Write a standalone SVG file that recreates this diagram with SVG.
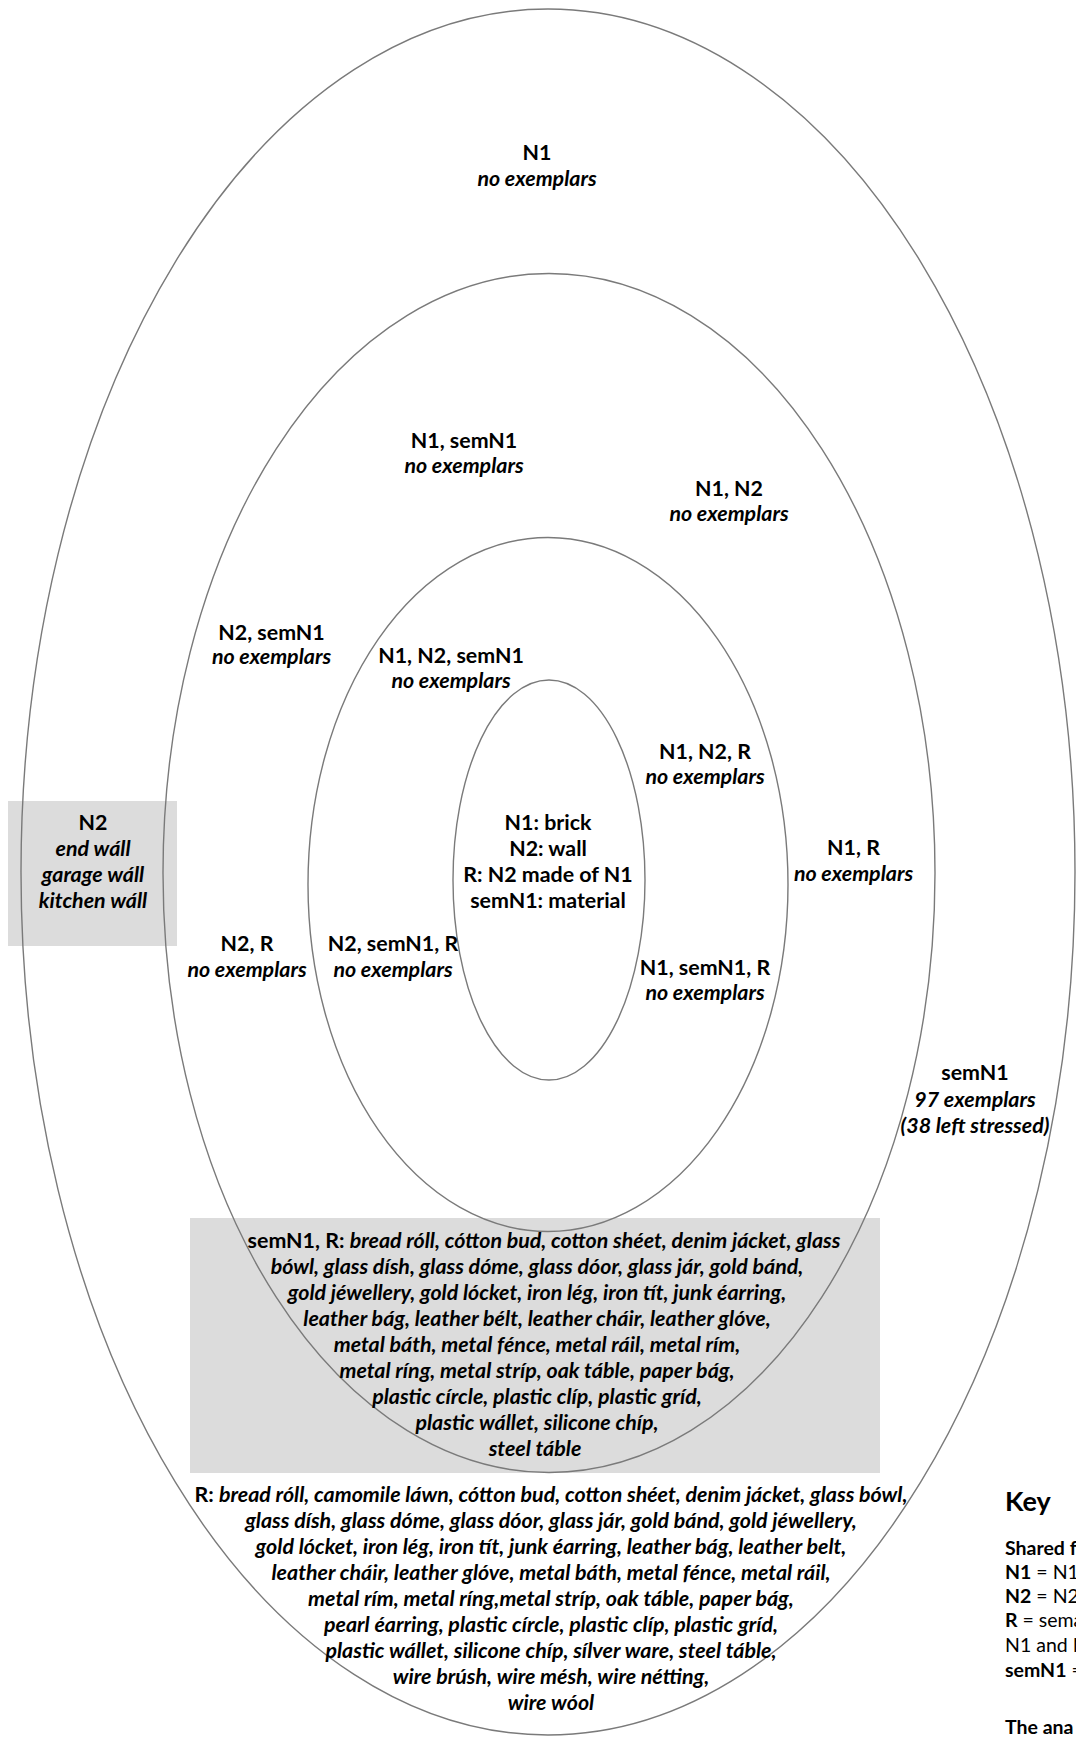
<svg xmlns="http://www.w3.org/2000/svg" width="1076" height="1737" viewBox="0 0 1076 1737">
<style>
.ring{fill:none;stroke:#7a7a7a;stroke-width:1.4}
.box{fill:#dcdcdc}
text{font-family:Lato,'Liberation Sans',sans-serif;font-size:21.4px;fill:#000;text-anchor:middle}
.b{font-weight:bold}
.bi{font-weight:bold;font-style:italic}
.k{text-anchor:start;font-size:19.5px}
.kh{font-size:27px;font-weight:bold}
</style>
<rect width="1076" height="1737" fill="#fff"/>
<g id="shading">
<rect class="box" x="8" y="801" width="169" height="145"/>
<rect class="box" x="190" y="1218" width="690" height="255"/>
</g>
<g id="rings">
<ellipse id="ring-N1" class="ring" cx="548" cy="872" rx="527" ry="863"/>
<ellipse id="ring-R" class="ring" cx="549" cy="873" rx="386" ry="599.5"/>
<ellipse id="ring-semN1" class="ring" cx="548" cy="884.5" rx="240" ry="347"/>
<ellipse id="ring-N2" class="ring" cx="549" cy="880" rx="96" ry="200"/>
</g>
<g id="connectors"/>
<g id="n-N1"><text x="537" y="160" class="b">N1</text><text x="537" y="185.5" class="bi">no exemplars</text></g>
<g id="n-N1-semN1"><text x="464" y="448" class="b">N1, semN1</text><text x="464" y="473" class="bi">no exemplars</text></g>
<g id="n-N1-N2"><text x="729" y="495.5" class="b">N1, N2</text><text x="729" y="521" class="bi">no exemplars</text></g>
<g id="n-N2-semN1"><text x="271.5" y="639.5" class="b">N2, semN1</text><text x="271.5" y="664" class="bi">no exemplars</text></g>
<g id="n-N1-N2-semN1"><text x="451" y="662.5" class="b">N1, N2, semN1</text><text x="451" y="688" class="bi">no exemplars</text></g>
<g id="n-N1-N2-R"><text x="705" y="759" class="b">N1, N2, R</text><text x="705" y="784" class="bi">no exemplars</text></g>
<g id="n-center"><text x="548" y="830" class="b">N1: brick</text><text x="548" y="856" class="b">N2: wall</text><text x="548" y="882" class="b">R: N2 made of N1</text><text x="548" y="908" class="b">semN1: material</text></g>
<g id="n-N2"><text x="93" y="830" class="b">N2</text><text x="93" y="856" class="bi">end wáll</text><text x="93" y="882" class="bi">garage wáll</text><text x="93" y="908" class="bi">kitchen wáll</text></g>
<g id="n-N1-R"><text x="853.5" y="855" class="b">N1, R</text><text x="853.5" y="880.5" class="bi">no exemplars</text></g>
<g id="n-N2-R"><text x="247" y="950.5" class="b">N2, R</text><text x="247" y="976.5" class="bi">no exemplars</text></g>
<g id="n-N2-semN1-R"><text x="393" y="950.5" class="b">N2, semN1, R</text><text x="393" y="976.5" class="bi">no exemplars</text></g>
<g id="n-N1-semN1-R"><text x="705" y="974.5" class="b">N1, semN1, R</text><text x="705" y="1000" class="bi">no exemplars</text></g>
<g id="n-semN1"><text x="975" y="1080" class="b">semN1</text><text x="975" y="1107" class="bi">97 exemplars</text><text x="975" y="1133" class="bi">(38 left stressed)</text></g>
<g id="n-semN1-R" class="bi">
<text x="544" y="1247.5"><tspan class="b" font-style="normal">semN1, R: </tspan>bread róll, cótton bud, cotton shéet, denim jácket, glass</text>
<text x="537" y="1273.5">bówl, glass dísh, glass dóme, glass dóor, glass jár, gold bánd,</text>
<text x="537" y="1299.5">gold jéwellery, gold lócket, iron lég, iron tít, junk éarring,</text>
<text x="537" y="1325.5">leather bág, leather bélt, leather cháir, leather glóve,</text>
<text x="537" y="1351.5">metal báth, metal fénce, metal ráil, metal rím,</text>
<text x="537" y="1377.5">metal ríng, metal stríp, oak táble, paper bág,</text>
<text x="537" y="1403.5">plastic círcle, plastic clíp, plastic gríd,</text>
<text x="537" y="1429.5">plastic wállet, silicone chíp,</text>
<text x="535" y="1455.5">steel táble</text>
</g>
<g id="n-R" class="bi">
<text x="551" y="1501.5"><tspan class="b" font-style="normal">R: </tspan>bread róll, camomile láwn, cótton bud, cotton shéet, denim jácket, glass bówl,</text>
<text x="551" y="1527.5">glass dísh, glass dóme, glass dóor, glass jár, gold bánd, gold jéwellery,</text>
<text x="551" y="1553.5">gold lócket, iron lég, iron tít, junk éarring, leather bág, leather belt,</text>
<text x="551" y="1579.5">leather cháir, leather glóve, metal báth, metal fénce, metal ráil,</text>
<text x="551" y="1605.5">metal rím, metal ríng,metal stríp, oak táble, paper bág,</text>
<text x="551" y="1631.5">pearl éarring, plastic círcle, plastic clíp, plastic gríd,</text>
<text x="551" y="1657.5">plastic wállet, silicone chíp, sílver ware, steel táble,</text>
<text x="551" y="1683.5">wire brúsh, wire mésh, wire nétting,</text>
<text x="551" y="1709.5">wire wóol</text>
</g>
<g id="key">
<text class="k kh" x="1005" y="1511">Key</text>
<text class="k b" x="1005" y="1555">Shared f</text>
<text class="k" x="1005" y="1579"><tspan class="b">N1</tspan> = N1</text>
<text class="k" x="1005" y="1603"><tspan class="b">N2</tspan> = N2</text>
<text class="k" x="1005" y="1627"><tspan class="b">R</tspan> = sema</text>
<text class="k" x="1005" y="1652">N1 and N</text>
<text class="k" x="1005" y="1677"><tspan class="b">semN1</tspan> =</text>
<text class="k b" x="1005" y="1733.5">The ana</text>
</g>
</svg>
